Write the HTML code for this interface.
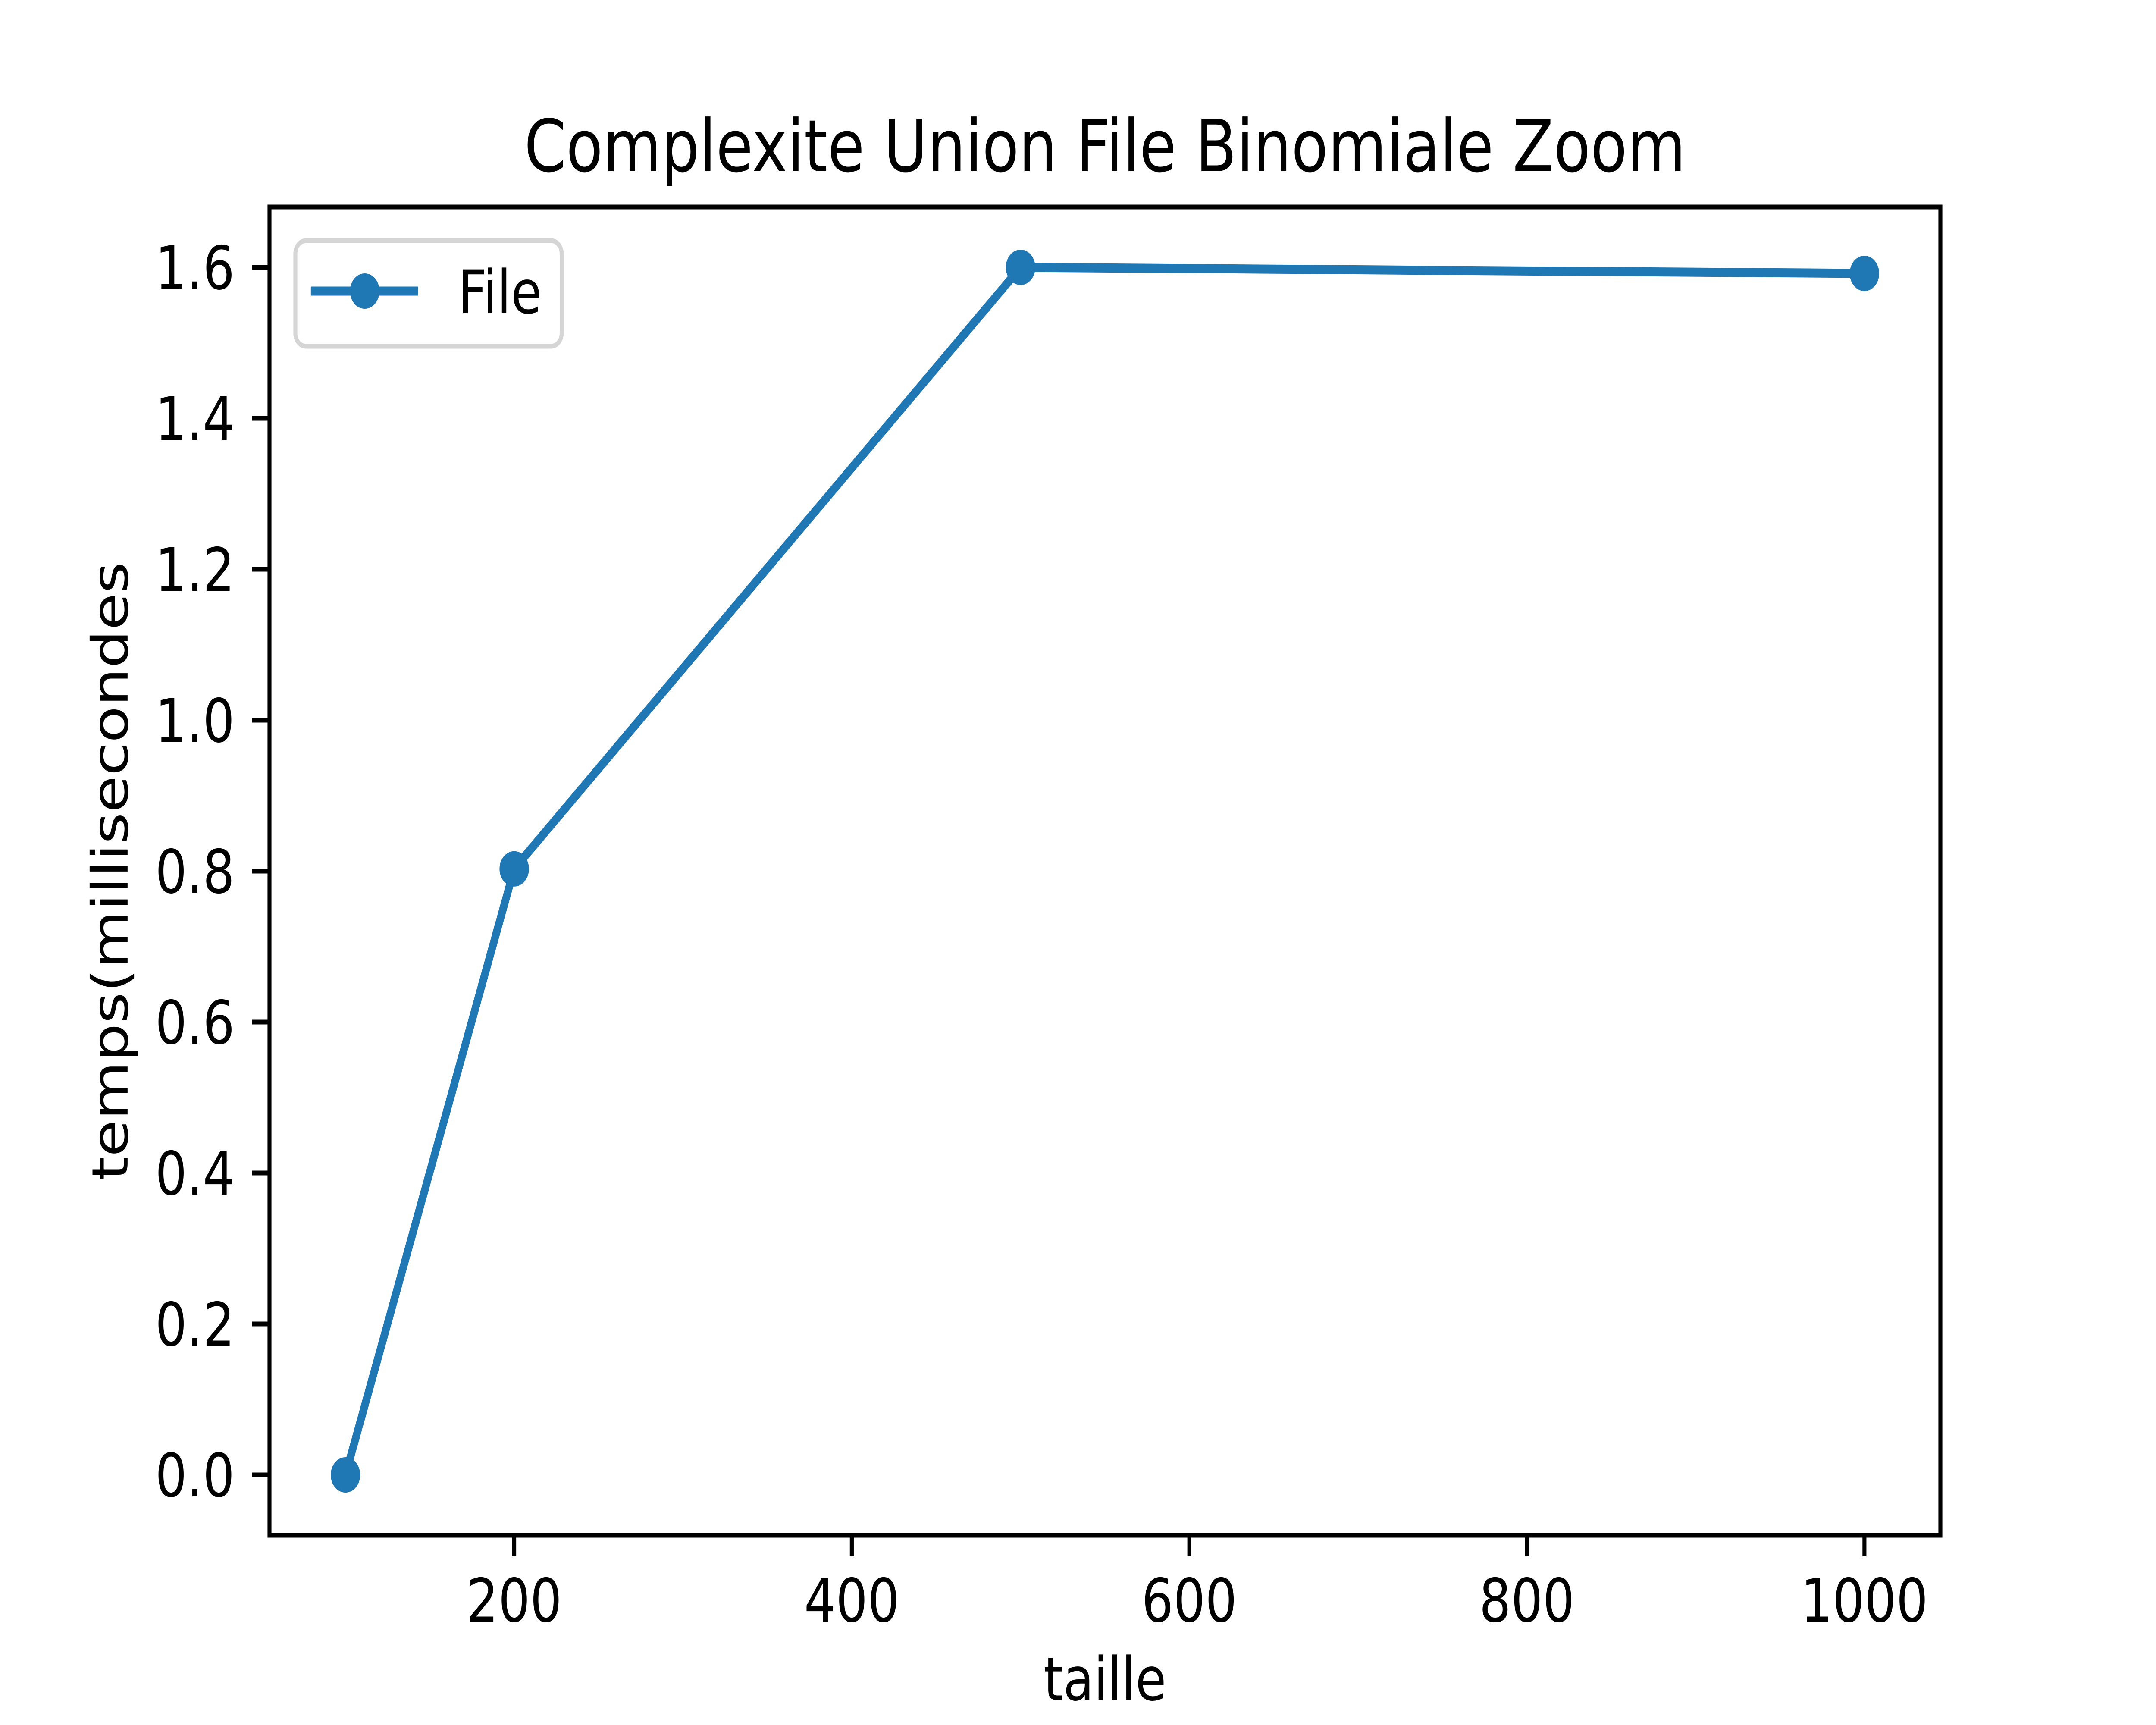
<!DOCTYPE html>
<html><head><meta charset="utf-8"><style>
html,body{margin:0;padding:0;background:#fff;width:100%;height:100%;overflow:hidden}
svg{display:block;width:100vw;height:100vh}
text{font-family:"DejaVu Sans","Liberation Sans",sans-serif;fill:#000}
</style></head><body>
<svg id="chart" viewBox="0 0 6000 4000" preserveAspectRatio="none" xmlns="http://www.w3.org/2000/svg">
<rect x="0" y="0" width="6000" height="4000" fill="#fff"/>
<text x="3075" y="397" font-size="167" text-anchor="middle">Complexite Union File Binomiale Zoom</text>
<g id="xticks"></g>
<g id="yticks"></g>
<g id="series"></g>
<rect x="750" y="480" width="4650" height="3080" fill="none" stroke="#000" stroke-width="11"/>
<text x="3075" y="3942" font-size="139" text-anchor="middle">taille</text>
<text transform="translate(355,2020) rotate(-90)" font-size="139" text-anchor="middle">temps(millisecondes</text>
<g>
<rect x="822" y="558" width="741" height="245" rx="30" fill="#fff" fill-opacity="0.8" stroke="#d5d5d5" stroke-width="11"/>
<line x1="865" y1="675" x2="1164" y2="675" stroke="#1f77b4" stroke-width="21"/>
<circle cx="1015" cy="675" r="41" fill="#1f77b4"/>
<text x="1275" y="726" font-size="139">File</text>
</g>
</svg>
<script>
const xValues = [100, 200, 500, 1000];
const yValues = [0, 0.803, 1.6, 1.592];
const xTickLabels = [200, 400, 600, 800, 1000];
const yTickLabels = [0.0, 0.2, 0.4, 0.6, 0.8, 1.0, 1.2, 1.4, 1.6];

const NS = "http://www.w3.org/2000/svg";
const L = 750, R = 5400, T = 480, B = 3560;
const xmin = Math.min(...xValues), xmax = Math.max(...xValues);
const ymin = Math.min(...yValues), ymax = Math.max(...yValues);
const xlo = xmin - (xmax - xmin) * 0.05, xhi = xmax + (xmax - xmin) * 0.05;
const ylo = ymin - (ymax - ymin) * 0.05, yhi = ymax + (ymax - ymin) * 0.05;
function sx(v){ return L + (v - xlo) / (xhi - xlo) * (R - L); }
function sy(v){ return B - (v - ylo) / (yhi - ylo) * (B - T); }
function mk(tag, attrs){ const e = document.createElementNS(NS, tag); for (const k in attrs) e.setAttribute(k, attrs[k]); return e; }

const gx = document.getElementById('xticks');
xTickLabels.forEach(v => {
  const x = sx(v);
  const t = mk('line', {x1:x, y1:B, x2:x, y2:B+49, stroke:'#000', 'stroke-width':11});
  
  
  gx.appendChild(t);
  const s = mk('text', {x:x, y:3760, 'font-size':139, 'text-anchor':'middle'});
  s.textContent = String(v);
  
  
  gx.appendChild(s);
});
const gy = document.getElementById('yticks');
yTickLabels.forEach(v => {
  const y = sy(v);
  const t = mk('line', {x1:L-49, y1:y, x2:L, y2:y, stroke:'#000', 'stroke-width':11});
  
  
  gy.appendChild(t);
  const s = mk('text', {x:653, y:y+50, 'font-size':139, 'text-anchor':'end'});
  s.textContent = v.toFixed(1);
  
  
  gy.appendChild(s);
});
const gs = document.getElementById('series');
const pts = xValues.map((x, i) => sx(x) + ',' + sy(yValues[i])).join(' ');
const pl = mk('polyline', {points:pts, fill:'none', stroke:'#1f77b4', 'stroke-width':21, 'stroke-linejoin':'round', 'stroke-linecap':'square'});


gs.appendChild(pl);
xValues.forEach((x, i) => {
  const c = mk('circle', {cx:sx(x), cy:sy(yValues[i]), r:41, fill:'#1f77b4'});
  
  
  gs.appendChild(c);
});
</script>
</body></html>
